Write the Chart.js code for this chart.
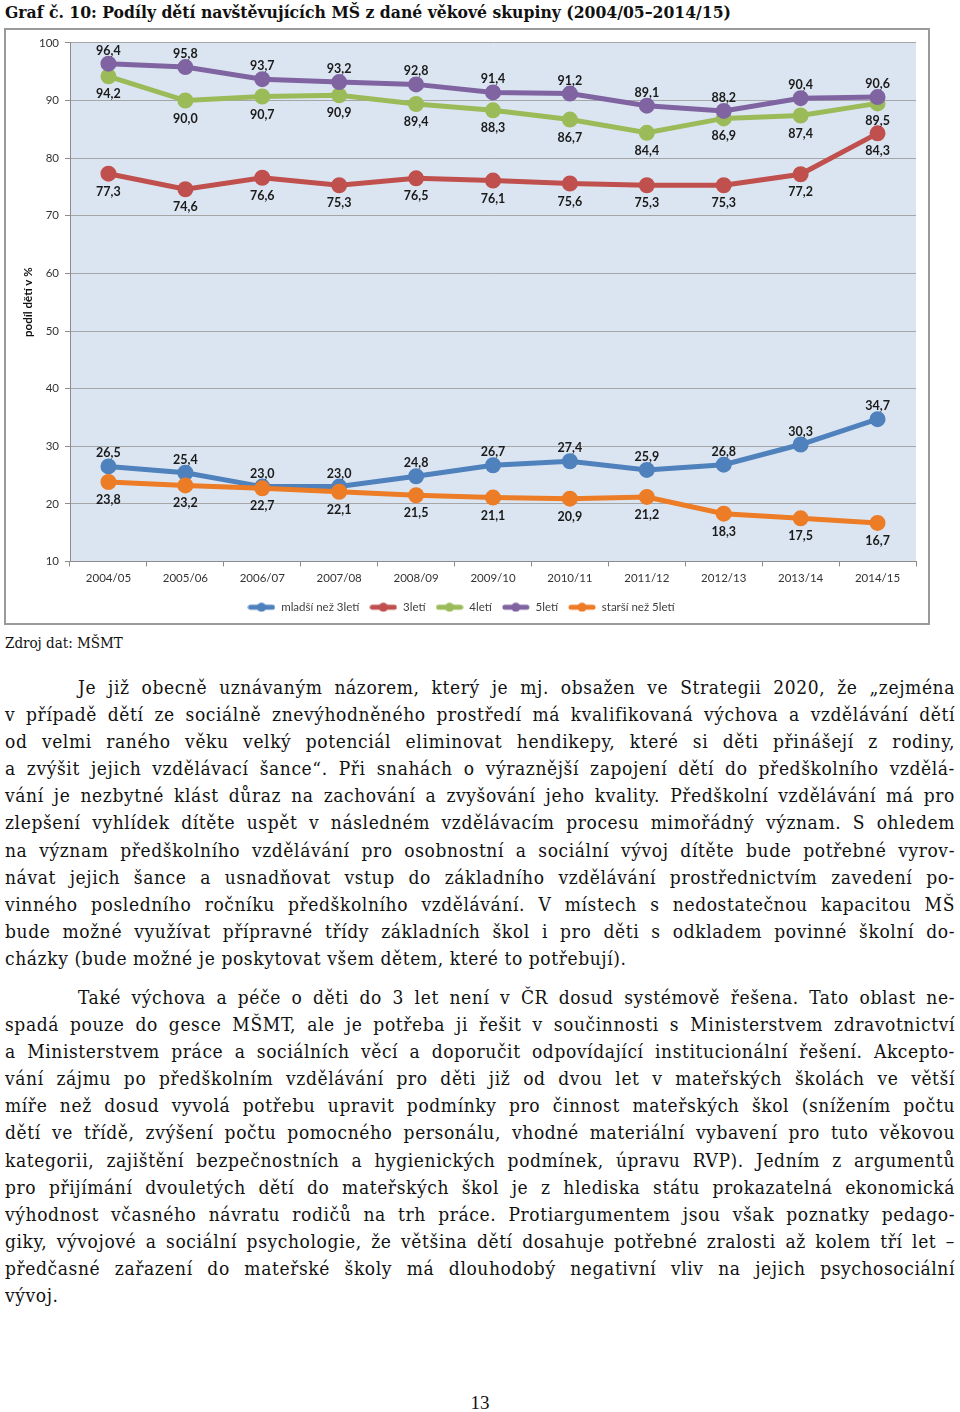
<!DOCTYPE html>
<html lang="cs">
<head>
<meta charset="utf-8">
<script src="https://cdn.jsdelivr.net/npm/chart.js@4.4.1/dist/chart.umd.min.js"></script>
<style>
  html, body { margin: 0; padding: 0; background: #fff; }
  body { width: 960px; height: 1412px; position: relative; overflow: hidden; }
  #title { position: absolute; left: 5px; top: 0px; font-family: "DejaVu Serif Condensed", "Liberation Serif", serif; font-weight: bold; font-size: 17.4px; line-height: 24px; color: #111; white-space: nowrap; }
  #box { position: absolute; left: 4px; top: 28px; width: 922px; height: 593px; border: 2px solid #9a9a9a; }
  #box canvas { display: block; }
  #source { position: absolute; left: 5px; top: 632px; font-family: "DejaVu Serif Condensed", "Liberation Serif", serif; font-size: 15px; line-height: 22px; color: #111; }
  .para { position: absolute; left: 5px; width: 950px; font-family: "DejaVu Serif Condensed", "Liberation Serif", serif; font-size: 19px; letter-spacing: 0.6px; line-height: 27.1px; color: #111; }
  .ln { text-align: justify; text-align-last: justify; white-space: nowrap; height: 27.1px; }
  .ln.first { padding-left: 73px; }
  .ln.last { text-align-last: left; }
  #pg { position: absolute; left: 0; width: 960px; top: 1392px; text-align: center; font-family: "Liberation Serif", serif; font-size: 19px; color: #111; }
</style>
</head>
<body>
<div id="title">Graf č. 10: Podíly dětí navštěvujících MŠ z dané věkové skupiny (2004/05–2014/15)</div>
<div id="box"><canvas id="c" width="922" height="593"></canvas></div>
<div id="source">Zdroj dat: MŠMT</div>

<div class="para" style="top:674px">
<div class="ln first">Je již obecně uznávaným názorem, který je mj. obsažen ve Strategii 2020, že „zejména</div>
<div class="ln">v případě dětí ze sociálně znevýhodněného prostředí má kvalifikovaná výchova a vzdělávání dětí</div>
<div class="ln">od velmi raného věku velký potenciál eliminovat hendikepy, které si děti přinášejí z rodiny,</div>
<div class="ln">a zvýšit jejich vzdělávací šance“. Při snahách o výraznější zapojení dětí do předškolního vzdělá-</div>
<div class="ln">vání je nezbytné klást důraz na zachování a zvyšování jeho kvality. Předškolní vzdělávání má pro</div>
<div class="ln">zlepšení vyhlídek dítěte uspět v následném vzdělávacím procesu mimořádný význam. S ohledem</div>
<div class="ln">na význam předškolního vzdělávání pro osobnostní a sociální vývoj dítěte bude potřebné vyrov-</div>
<div class="ln">návat jejich šance a usnadňovat vstup do základního vzdělávání prostřednictvím zavedení po-</div>
<div class="ln">vinného posledního ročníku předškolního vzdělávání. V místech s nedostatečnou kapacitou MŠ</div>
<div class="ln">bude možné využívat přípravné třídy základních škol i pro děti s odkladem povinné školní do-</div>
<div class="ln last">cházky (bude možné je poskytovat všem dětem, které to potřebují).</div>
</div>

<div class="para" style="top:984px">
<div class="ln first">Také výchova a péče o děti do 3 let není v ČR dosud systémově řešena. Tato oblast ne-</div>
<div class="ln">spadá pouze do gesce MŠMT, ale je potřeba ji řešit v součinnosti s Ministerstvem zdravotnictví</div>
<div class="ln">a Ministerstvem práce a sociálních věcí a doporučit odpovídající institucionální řešení. Akcepto-</div>
<div class="ln">vání zájmu po předškolním vzdělávání pro děti již od dvou let v mateřských školách ve větší</div>
<div class="ln">míře než dosud vyvolá potřebu upravit podmínky pro činnost mateřských škol (snížením počtu</div>
<div class="ln">dětí ve třídě, zvýšení počtu pomocného personálu, vhodné materiální vybavení pro tuto věkovou</div>
<div class="ln">kategorii, zajištění bezpečnostních a hygienických podmínek, úpravu RVP). Jedním z argumentů</div>
<div class="ln">pro přijímání dvouletých dětí do mateřských škol je z hlediska státu prokazatelná ekonomická</div>
<div class="ln">výhodnost včasného návratu rodičů na trh práce. Protiargumentem jsou však poznatky pedago-</div>
<div class="ln">giky, vývojové a sociální psychologie, že většina dětí dosahuje potřebné zralosti až kolem tří let –</div>
<div class="ln">předčasné zařazení do mateřské školy má dlouhodobý negativní vliv na jejich psychosociální</div>
<div class="ln last">vývoj.</div>
</div>

<div id="pg">13</div>

<script>
// ---- data ----
const years = ["2004/05","2005/06","2006/07","2007/08","2008/09","2009/10","2010/11","2011/12","2012/13","2013/14","2014/15"];
const seriesNames = ["mladší než 3letí","3letí","4letí","5letí","starší než 5letí"];
const under3 = [26.5, 25.4, 23.0, 23.0, 24.8, 26.7, 27.4, 25.9, 26.8, 30.3, 34.7];
const age3   = [77.3, 74.6, 76.6, 75.3, 76.5, 76.1, 75.6, 75.3, 75.3, 77.2, 84.3];
const age4   = [94.2, 90.0, 90.7, 90.9, 89.4, 88.3, 86.7, 84.4, 86.9, 87.4, 89.5];
const age5   = [96.4, 95.8, 93.7, 93.2, 92.8, 91.4, 91.2, 89.1, 88.2, 90.4, 90.6];
const over5  = [23.8, 23.2, 22.7, 22.1, 21.5, 21.1, 20.9, 21.2, 18.3, 17.5, 16.7];
const yTicks = [10, 20, 30, 40, 50, 60, 70, 80, 90, 100];

const colors = ["#4f81bd", "#c0504d", "#9bbb59", "#8064a2", "#ec7c26"];
const labelSide = ["above", "below", "below", "above", "below"];
const allSeries = [under3, age3, age4, age5, over5];

function legendIcon(color) {
  const cv = document.createElement('canvas');
  cv.width = 28; cv.height = 10;
  const x = cv.getContext('2d');
  x.strokeStyle = color; x.lineWidth = 5; x.lineCap = 'round';
  x.beginPath(); x.moveTo(3, 5); x.lineTo(25, 5); x.stroke();
  x.fillStyle = color; x.beginPath(); x.arc(14, 5, 4.5, 0, Math.PI * 2); x.fill();
  return cv;
}

const datasets = allSeries.map((d, i) => ({
  label: seriesNames[i],
  data: d,
  borderColor: colors[i],
  backgroundColor: colors[i],
  pointBackgroundColor: colors[i],
  pointBorderColor: colors[i],
  borderWidth: 5,
  pointRadius: 5.5,
  pointHoverRadius: 5.5,
  tension: 0,
  order: 5 - i,
  labelSide: labelSide[i],
  pointStyle: 'circle',
  legendIcon: legendIcon(colors[i])
}));

const plotBg = {
  id: 'plotBg',
  beforeDraw(chart) {
    const {ctx, chartArea: a} = chart;
    ctx.save();
    ctx.fillStyle = '#dbe5f1';
    ctx.fillRect(a.left, a.top, a.right - a.left, a.bottom - a.top);
    ctx.restore();
  }
};

const dataLabels = {
  id: 'dataLabels',
  afterDatasetsDraw(chart) {
    const ctx = chart.ctx;
    ctx.save();
    ctx.font = 'bold 12.5px Lato, "Liberation Sans", sans-serif';
    ctx.fillStyle = '#1a1a1a';
    ctx.textAlign = 'center';
    ctx.textBaseline = 'middle';
    chart.data.datasets.forEach((ds, i) => {
      const meta = chart.getDatasetMeta(i);
      meta.data.forEach((pt, j) => {
        const v = ds.data[j];
        const txt = v.toFixed(1).replace('.', ',');
        const dy = ds.labelSide === 'above' ? -13 : 18;
        ctx.fillText(txt, pt.x, pt.y + dy);
      });
    });
    ctx.restore();
  }
};

const tickFont = { family: 'Lato, "Liberation Sans", sans-serif', size: 11.5 };

new Chart(document.getElementById('c'), {
  type: 'line',
  data: { labels: years, datasets },
  options: {
    responsive: false,
    animation: false,
    devicePixelRatio: 1,
    layout: { padding: { top: 12, right: 12, left: 0, bottom: 0 } },
    plugins: {
      tooltip: { enabled: false },
      legend: {
        position: 'bottom',
        labels: {
          usePointStyle: true,
          pointStyleWidth: 28,
          boxHeight: 10,
          padding: 10,
          color: '#404040',
          font: { family: 'Lato, "Liberation Sans", sans-serif', size: 11.5 },
          sort: (a, b) => a.datasetIndex - b.datasetIndex,
          generateLabels(chart) {
            return chart.data.datasets.map((ds, i) => ({
              text: ds.label,
              datasetIndex: i,
              pointStyle: ds.legendIcon,
              fillStyle: ds.borderColor,
              strokeStyle: ds.borderColor,
              lineWidth: 0,
              fontColor: '#404040',
              hidden: false
            }));
          }
        }
      }
    },
    scales: {
      x: {
        offset: true,
        grid: { offset: true, drawOnChartArea: false, color: '#8c8c8c', tickLength: 5, tickColor: '#8c8c8c' },
        border: { color: '#8c8c8c', width: 1 },
        ticks: { color: '#333333', font: tickFont, padding: 5, maxRotation: 0, autoSkip: false },
        afterFit(s) { s.height = 30; }
      },
      y: {
        min: 10, max: 100,
        afterBuildTicks(s) { s.ticks = yTicks.map(v => ({ value: v })); },
        grid: { color: '#a6a6a6', tickLength: 5, tickColor: '#8c8c8c' },
        border: { color: '#8c8c8c', width: 1 },
        ticks: { color: '#333333', font: tickFont, padding: 6 },
        title: {
          display: true,
          text: 'podíl dětí v %',
          color: '#111111',
          font: { family: 'Lato, "Liberation Sans", sans-serif', size: 11.5, weight: 'bold' },
          padding: { top: 15, bottom: 0 }
        },
        afterFit(s) { s.width = 64; }
      }
    }
  },
  plugins: [plotBg, dataLabels]
});
</script>
</body>
</html>
